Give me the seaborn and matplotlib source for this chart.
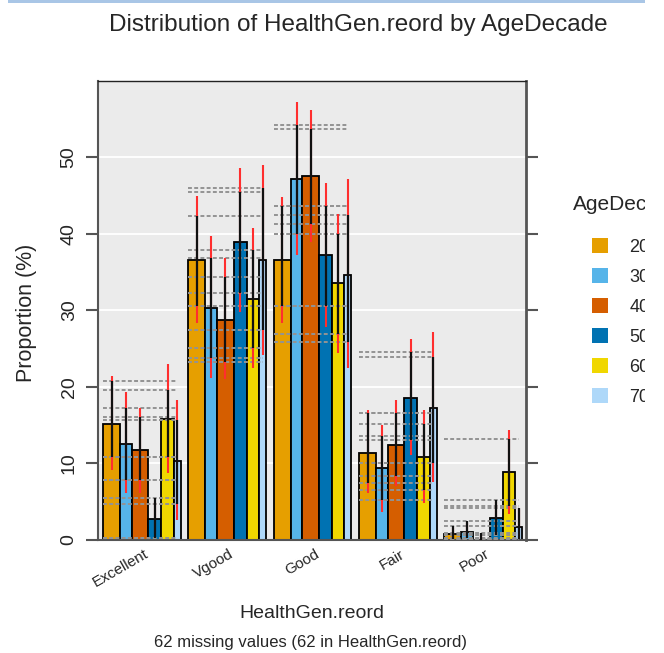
import numpy as np
import pandas as pd
import matplotlib
matplotlib.use("Agg")
import matplotlib.pyplot as plt
from matplotlib.patches import Patch, Rectangle
from matplotlib.transforms import ScaledTranslation
import seaborn as sns

# ---------------- data ----------------
health = ["Excellent", "Vgood", "Good", "Fair", "Poor"]
ages = ["20-29", "30-39", "40-49", "50-59", "60-69", "70+"]

p20 = [15.2, 36.5, 36.5, 11.4, 0.8]
p30 = [12.5, 30.3, 47.2, 9.35, 1.0]
p40 = [11.7, 28.7, 47.5, 12.4, 0.0]
p50 = [2.8, 38.9, 37.2, 18.6, 2.9]
p60 = [15.75, 31.5, 33.5, 10.9, 8.9]
p70 = [10.35, 36.5, 34.6, 17.2, 1.7]

# black intervals (lo, hi) per health level
blk20 = [(10.9, 20.8), (30.5, 42.3), (30.5, 43.6), (7.5, 16.6), (0.1, 1.8)]
blk30 = [(7.8, 17.3), (23.7, 36.8), (40.0, 54.2), (5.2, 13.6), (0.2, 2.5)]
blk40 = [(7.8, 16.1), (23.3, 34.4), (41.3, 53.7), (8.4, 16.6), (0.0, 0.9)]
blk50 = [(0.2, 5.5), (32.3, 45.5), (30.5, 43.6), (13.1, 24.5), (0.6, 5.2)]
blk60 = [(10.9, 19.6), (25.1, 37.9), (26.9, 40.0), (6.5, 15.1), (4.4, 13.2)]
blk70 = [(4.7, 15.7), (27.4, 45.9), (25.8, 42.4), (10.1, 23.9), (0.1, 4.2)]

# red intervals (lo, hi)
red20 = [(9.1, 21.4), (28.3, 44.9), (28.4, 44.8), (6.1, 17.0), (0.2, 1.6)]
red30 = [(6.1, 19.3), (21.1, 39.7), (37.2, 57.2), (3.6, 15.0), (0.3, 2.2)]
red40 = [(6.1, 17.2), (21.0, 36.8), (38.9, 56.2), (7.0, 18.3), (0.0, 0.7)]
red50 = [(0.8, 5.0), (29.8, 48.6), (27.8, 46.6), (11.1, 26.2), (0.8, 4.9)]
red60 = [(8.7, 23.0), (22.5, 40.7), (24.4, 42.6), (4.8, 17.0), (3.4, 14.4)]
red70 = [(2.6, 18.3), (24.1, 49.0), (22.5, 47.1), (7.6, 27.2), (0.1, 4.0)]

values = [p20, p30, p40, p50, p60, p70]
black_ci = [blk20, blk30, blk40, blk50, blk60, blk70]
red_ci = [red20, red30, red40, red50, red60, red70]

# ---------------- style / layout ----------------
colors = ["#E69F00", "#56B4E9", "#D55E00", "#0072B2", "#F0D700", "#AED8F9"]
bar_widths = [0.199, 0.137, 0.194, 0.153, 0.146, 0.082]
total_w = sum(bar_widths)

sns.set_style("white", {"axes.facecolor": "#EBEBEB"})
plt.rcParams["font.family"] = ["Liberation Sans", "DejaVu Sans"]

rows = []
for a, vals in zip(ages, values):
    for h, v in zip(health, vals):
        rows.append({"HealthGen.reord": h, "AgeDecade": a, "pct": v})
df = pd.DataFrame(rows)

W, H = 664, 653
fig = plt.figure(figsize=(W / 100, H / 100), dpi=100)
ax = fig.add_axes([98 / W, 1 - 540 / H, (525.7 - 98) / W, (540 - 80.5) / H])

sns.barplot(data=df, x="HealthGen.reord", y="pct", hue="AgeDecade",
            order=health, hue_order=ages, palette=colors, saturation=1,
            errorbar=None, width=total_w, gap=0, edgecolor="black",
            linewidth=1.3, legend=False, ax=ax, zorder=2)

# variable widths
offsets = np.concatenate([[0], np.cumsum(bar_widths)[:-1]])
centers = np.zeros((len(ages), len(health)))
for j, cont in enumerate(ax.containers):
    for i, patch in enumerate(cont.patches):
        start = i - total_w / 2 + offsets[j]
        patch.set_x(start)
        patch.set_width(bar_widths[j])
        centers[j, i] = start + bar_widths[j] / 2

# dashed reference lines at black-interval ends
for i in range(len(health)):
    gstart = i - total_w / 2
    gend = centers[-1, i]
    for j in range(len(ages)):
        lo, hi = black_ci[j][i]
        ax.hlines([lo, hi], gstart, gend, colors="#939393", linestyles=(0, (2.0, 1.2)),
                  linewidth=1.4, zorder=3)

# red intervals then black intervals
for j in range(len(ages)):
    rlo = [r[0] for r in red_ci[j]]
    rhi = [r[1] for r in red_ci[j]]
    blo = [b[0] for b in black_ci[j]]
    bhi = [b[1] for b in black_ci[j]]
    ax.vlines(centers[j], rlo, rhi, colors="#FF2E2E", linewidth=1.5, zorder=4)
    ax.vlines(centers[j], blo, bhi, colors="#111111", linewidth=1.6, zorder=5)

ax.set_xlim(-0.515, 4.497)
ax.set_ylim(0, 60)
ax.set_yticks([0, 10, 20, 30, 40, 50])
ax.yaxis.grid(True, color="white", linewidth=1.3, zorder=0)
ax.set_axisbelow(True)

ax.tick_params(axis="y", which="both", left=True, right=True, length=8.6, width=1.5,
               color="#555555", pad=6, labelsize=14, direction="out")
for lab in ax.get_yticklabels():
    lab.set_rotation(90)
    lab.set_va("center")

ax.tick_params(axis="x", length=0, pad=5, labelsize=11)
ax.set_xticks(range(len(health)))
ax.set_xticklabels(health, rotation=30, ha="right", va="top", rotation_mode="anchor")
off = ScaledTranslation(2 / 100, 0, fig.dpi_scale_trans)
for lab in ax.get_xticklabels():
    lab.set_transform(lab.get_transform() + off)

for side in ["left", "bottom"]:
    ax.spines[side].set_color("#555555")
    ax.spines[side].set_linewidth(1.5)
ax.spines["right"].set_color("#555555")
ax.spines["right"].set_linewidth(2.0)
ax.spines["top"].set_color("#222222")
ax.spines["top"].set_linewidth(1.0)

ax.set_xlabel("HealthGen.reord", fontsize=14)
ax.xaxis.set_label_coords(0.5, -(614 - 540) / (540 - 80.5))
ax.xaxis.label.set_va("center")
ax.set_ylabel("Proportion (%)", fontsize=15.5)
ax.yaxis.set_label_coords((26.5 - 98) / (525.7 - 98), (540 - 313) / (540 - 80.5))
ax.yaxis.label.set_va("center")

fig.text(358 / W, 1 - 25 / H, "Distribution of HealthGen.reord by AgeDecade",
         ha="center", va="center", fontsize=17.5)
fig.text(311 / W, 1 - 642 / H, "62 missing values (62 in HealthGen.reord)",
         ha="center", va="center", fontsize=12)

# legend
fig.text(573 / W, 1 - 205 / H, "AgeDecade", ha="left", va="center", fontsize=15)
handles = [Patch(facecolor=c, edgecolor="none") for c in colors]
fig.legend(handles, ages, loc="upper left", bbox_to_anchor=(592 / W, 1 - 238.5 / H),
           frameon=False, borderpad=0, borderaxespad=0, fontsize=13,
           handlelength=0.89, handleheight=0.89, handletextpad=1.17,
           labelspacing=0.68)

# screenshot crop edge and window strip
fig.add_artist(Rectangle((645 / W, 0), (W - 645) / W, 1, transform=fig.transFigure,
                         facecolor="white", edgecolor="none", zorder=100))
fig.add_artist(Rectangle((8 / W, 1 - 3 / H), (645 - 8) / W, 3 / H, transform=fig.transFigure,
                         facecolor="#A9C6E6", edgecolor="none", zorder=101))

fig.savefig("out.png", dpi=100, facecolor="white")
